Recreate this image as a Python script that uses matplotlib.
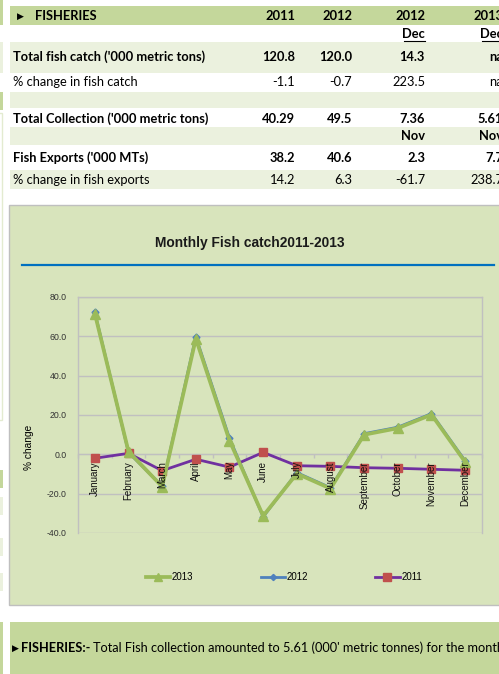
import matplotlib
matplotlib.use("Agg")
import matplotlib.pyplot as plt
from matplotlib.patches import Rectangle
from matplotlib.lines import Line2D

W, H = 499, 674

# ---------------- data ----------------
months = ['January', 'February', 'March', 'April', 'May', 'June', 'July',
          'August', 'September', 'October', 'November', 'December']
catch_2013 = [71.6, 1.4, -16.4, 58.8, 7.0, -31.3, -9.8, -17.4, 10.0, 13.3, 20.2, -3.9]
catch_2012 = [72.3, 1.0, -16.2, 59.8, 8.2, -31.8, -9.3, -17.0, 10.5, 13.8, 20.7, -3.3]
catch_2011 = [-2.0, 0.5, -8.3, -2.5, -6.5, 1.0, -5.8, -6.1, -6.8, -7.1, -7.6, -8.1]
y_ticks = [-40, -20, 0, 20, 40, 60, 80]

col_headers = ['2011', '2012', '2012', '2013']
sub_headers = ['', '', 'Dec', 'Dec']
row_labels = ["Total fish catch ('000 metric tons)", "% change in fish catch", "",
              "Total Collection ('000 metric tons)", "", "Fish Exports ('000 MTs)",
              "% change in fish exports"]
row_values = [['120.8', '120.0', '14.3', 'na'],
              ['-1.1', '-0.7', '223.5', 'na'],
              ['', '', '', ''],
              ['40.29', '49.5', '7.36', '5.61'],
              ['', '', 'Nov', 'Nov'],
              ['38.2', '40.6', '2.3', '7.7'],
              ['14.2', '6.3', '-61.7', '238.7']]
row_bold = [True, False, False, True, True, True, False]
footer_head = "FISHERIES:-"
footer_body = "Total Fish collection amounted to 5.61 (000' metric tonnes) for the month"

# ---------------- figure ----------------
fig = plt.figure(figsize=(W / 100, H / 100), dpi=100)
fig.patch.set_facecolor('white')

def fx(x):
    return x / W

def fy(y):
    return 1 - y / H

def rect(x0, y0, x1, y1, fc, ec='none', lw=0):
    fig.patches.append(Rectangle((fx(x0), fy(y1)), fx(x1) - fx(x0), fy(y0) - fy(y1),
                                 transform=fig.transFigure, facecolor=fc, edgecolor=ec,
                                 linewidth=lw, zorder=-5))

HDR = '#c4d79b'
LIGHT = '#ebf1de'
PANEL = '#d8e4bc'
TFONT = ['Lato', 'DejaVu Sans']
AFONT = ['Liberation Sans', 'DejaVu Sans']

# left-edge strips
rect(0, 0, 3, 25, HDR)
rect(0, 42, 3, 73, LIGHT)
rect(0, 92, 3, 110, HDR)
rect(-2, 113, 2.5, 420, 'none', ec='#e3ebd0', lw=1)
rect(0, 470, 3, 488, HDR)
rect(0, 497, 3, 515, LIGHT)
rect(0, 538, 3, 556, LIGHT)
rect(0, 573, 3, 591, LIGHT)
rect(0, 622, 3, 674, HDR)

# table bands
rect(10, 6, W, 25, HDR)
rect(10, 42, W, 73, LIGHT)
rect(10, 92, W, 108, LIGHT)
rect(10, 127, W, 145, LIGHT)
rect(10, 170, W, 189, LIGHT)

col_right = [295, 352, 425, 503]
fs_t = 9.3
fig.text(fx(17), fy(16), '\u25B6', fontsize=6.5, va='center', ha='left', family=['DejaVu Sans'])
fig.text(fx(35), fy(16), 'FISHERIES', fontsize=fs_t, fontweight='bold', va='center', ha='left', family=TFONT)
for cx, t in zip(col_right, col_headers):
    fig.text(fx(cx), fy(16), t, fontsize=fs_t, fontweight='bold', va='center', ha='right', family=TFONT)
for cx, t in zip(col_right, sub_headers):
    if t:
        fig.text(fx(cx), fy(34), t, fontsize=fs_t, fontweight='bold', va='center', ha='right', family=TFONT)
        fig.lines.append(Line2D([fx(cx - 21), fx(cx)], [fy(41), fy(41)], transform=fig.transFigure,
                                color='black', lw=0.8))

row_y = [57, 82, 100, 119, 136, 158, 180]
for lab, vals, ry, b in zip(row_labels, row_values, row_y, row_bold):
    w = 'bold' if b else 'normal'
    if lab:
        fig.text(fx(13), fy(ry), lab, fontsize=fs_t, fontweight=w, va='center', ha='left', family=TFONT)
    for cx, v in zip(col_right, vals):
        if v:
            fig.text(fx(cx), fy(ry), v, fontsize=fs_t, fontweight=w, va='center', ha='right', family=TFONT)

# chart panel
rect(8.7, 205, W + 5, 605, PANEL, ec='#bfbfbf', lw=1)
fig.text(fx(249.5), fy(243), 'Monthly Fish catch2011-2013', fontsize=9.9, fontweight='bold',
         ha='center', va='center', family=AFONT, color='#1a1a1a')
fig.lines.append(Line2D([fx(22), fx(494)], [fy(265.5), fy(265.5)], transform=fig.transFigure,
                        color='#0070c0', lw=1.6))

# footer
rect(10, 622, W + 5, 676, HDR)
fig.text(fx(12), fy(648), '\u25B6', fontsize=6.5, va='center', ha='left', family=['DejaVu Sans'])
head = fig.text(fx(21), fy(648), footer_head, fontsize=9.2, fontweight='bold',
                va='center', ha='left', family=TFONT)
renderer = fig.canvas.get_renderer()
bb = head.get_window_extent(renderer)
fig.text(bb.x1 / W + fx(3), fy(648), footer_body, fontsize=9.2,
         va='center', ha='left', family=TFONT)

# ---------------- chart ----------------
ax = fig.add_axes([fx(78), fy(533), fx(482) - fx(78), fy(297) - fy(533)])
ax.set_facecolor('none')
ax.set_xlim(-0.5, len(months) - 0.5)
ax.set_ylim(-40, 80)
GRID = '#c0c0c0'
ax.set_yticks(y_ticks)
ax.set_yticklabels([f'{v:.1f}' for v in y_ticks], fontsize=6.3, family=AFONT, color='#333333')
ax.tick_params(axis='y', length=0, pad=8)
ax.yaxis.grid(True, color=GRID, lw=1)
for s in ['top', 'left', 'right']:
    ax.spines[s].set_color(GRID)
    ax.spines[s].set_linewidth(1)
ax.spines['bottom'].set_position(('data', 0))
ax.spines['bottom'].set_color(GRID)
ax.set_xticks([i - 0.5 for i in range(len(months) + 1)])
ax.set_xticklabels([])
ax.tick_params(axis='x', length=3, color=GRID, direction='out', width=1)
ax.set_axisbelow(True)

x = list(range(len(months)))
l12, = ax.plot(x, catch_2012, color='#4f81bd', lw=2, marker='D', ms=3.5, zorder=3, label='2012')
l11, = ax.plot(x, catch_2011, color='#7030a0', lw=2, marker='s', ms=6, mfc='#c0504d',
               mec='#c0504d', zorder=4, label='2011')
l13, = ax.plot(x, catch_2013, color='#9bbb59', lw=2.7, marker='^', ms=6.5, zorder=5, label='2013')

for i, m in enumerate(months):
    ax.text(i, -3.5, m, rotation=90, ha='center', va='top', fontsize=7,
            family=AFONT, color='#111111', zorder=6)

ax.set_ylabel('% change', fontsize=7.3, family=AFONT)
ax.yaxis.set_label_coords(-(78 - 34) / (482 - 78), (533 - 447) / (533 - 297))

fig.legend(handles=[l13, l12, l11], labels=['2013', '2012', '2011'], ncol=3, frameon=False,
           loc='center', bbox_to_anchor=(fx(284), fy(577)),
           prop={'family': AFONT, 'size': 7},
           handlelength=2.5, handletextpad=0.2, columnspacing=6.9, markerscale=0.9)

fig.savefig('out.png', dpi=100)
